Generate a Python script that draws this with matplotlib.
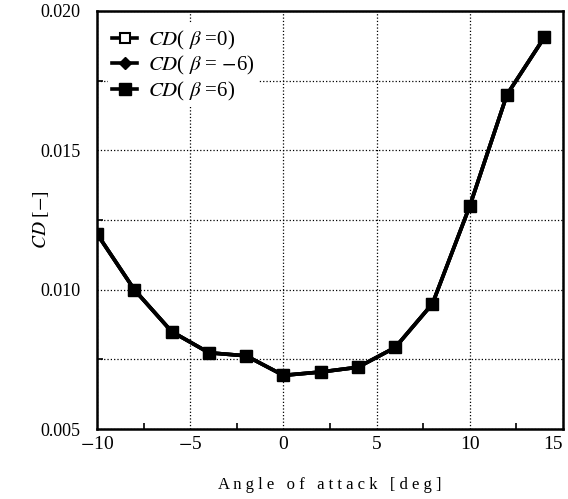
import matplotlib
matplotlib.use("Agg")
import matplotlib.pyplot as plt
from matplotlib.ticker import MultipleLocator

plt.rcParams['font.family'] = ['Liberation Serif', 'DejaVu Serif']
plt.rcParams['mathtext.fontset'] = 'stix'

alpha = [-10, -8, -6, -4, -2, 0, 2, 4, 6, 8, 10, 12, 14]
cd_beta0 = [0.0120, 0.0100, 0.00850, 0.00774, 0.00763, 0.00693, 0.00705, 0.00722, 0.00793, 0.00950, 0.01300, 0.01700, 0.01905]
cd_betam6 = [0.0120, 0.0100, 0.00850, 0.00774, 0.00763, 0.00693, 0.00705, 0.00722, 0.00793, 0.00950, 0.01300, 0.01700, 0.01905]
cd_beta6 = [0.0120, 0.0100, 0.00850, 0.00774, 0.00763, 0.00693, 0.00705, 0.00722, 0.00793, 0.00950, 0.01300, 0.01700, 0.01905]

labels = [r'$CD$( $\beta$ =0)', r'$CD$( $\beta$ = $-$6)', r'$CD$( $\beta$ =6)']
xticks = [-10, -5, 0, 5, 10, 15]
xticklabels = ['$-$10', '$-$5', '0', '5', '10', '15']
yticks = [0.005, 0.010, 0.015, 0.020]
yticklabels = ['0.005', '0.010', '0.015', '0.020']

fig = plt.figure(figsize=(5.68, 4.99), dpi=100)
ax = fig.add_axes([0.171, 0.140, 0.820, 0.838])

ax.plot(alpha, cd_beta0, color='black', lw=2.6, marker='s', ms=7, mfc='white', mec='black', mew=1.5, label=labels[0])
ax.plot(alpha, cd_betam6, color='black', lw=2.6, marker='D', ms=6, mfc='black', mec='black', label=labels[1])
ax.plot(alpha, cd_beta6, color='black', lw=2.6, marker='s', ms=8, mfc='black', mec='black', label=labels[2])

ax.set_xlim(-10, 15)
ax.set_ylim(0.005, 0.020)
ax.set_xticks(xticks)
ax.set_xticklabels(xticklabels, fontsize=14)
ax.get_xticklabels()[-1].set_horizontalalignment('right')
ax.set_yticks(yticks)
ax.set_yticklabels(yticklabels, fontsize=13)
ax.xaxis.set_minor_locator(MultipleLocator(2.5))
ax.yaxis.set_minor_locator(MultipleLocator(0.0025))
ax.tick_params(which='both', direction='in', length=4, width=1.2, top=False, right=False)
ax.tick_params(axis='x', which='major', length=0, pad=5)
ax.tick_params(axis='y', which='major', length=0, pad=12)

ax.grid(True, axis='x', which='major', linestyle=':', color='black', lw=0.9)
ax.grid(True, axis='y', which='both', linestyle=':', color='black', lw=0.9)
for s in ax.spines.values():
    s.set_linewidth(1.8)

ax.set_xlabel('A n g l e   o f   a t t a c k   [ d e g ]', fontsize=12, labelpad=17)
ax.set_ylabel(r'$CD$ [$-$]', fontsize=14, labelpad=-8)

leg = ax.legend(loc='upper left', frameon=True, fontsize=15, handlelength=1.2,
                handletextpad=0.5, borderaxespad=0.2, labelspacing=0.12,
                borderpad=0.2, fancybox=False, framealpha=1.0,
                facecolor='white', edgecolor='none',
                bbox_to_anchor=(0.015, 0.978))

fig.savefig('out.png', dpi=100)
